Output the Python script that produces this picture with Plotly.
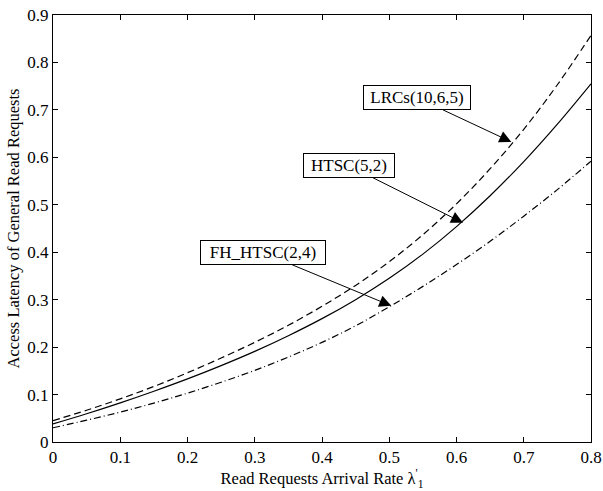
import plotly.graph_objects as go

# Data
x_rate = [0.0, 0.05, 0.1, 0.15, 0.2, 0.25, 0.3, 0.35, 0.4, 0.45, 0.5, 0.55, 0.6, 0.65, 0.7, 0.75, 0.8]
lrcs = [0.045, 0.067, 0.091, 0.117, 0.146, 0.177, 0.210, 0.246, 0.286, 0.330, 0.380, 0.437, 0.502, 0.576, 0.659, 0.753, 0.857]
htsc = [0.038, 0.0595, 0.0825, 0.107, 0.133, 0.161, 0.191, 0.224, 0.260, 0.300, 0.345, 0.396, 0.454, 0.519, 0.591, 0.670, 0.755]
fh_htsc = [0.030, 0.046, 0.063, 0.082, 0.103, 0.126, 0.151, 0.179, 0.210, 0.245, 0.285, 0.328, 0.374, 0.423, 0.476, 0.532, 0.592]

x_ticks = [0, 0.1, 0.2, 0.3, 0.4, 0.5, 0.6, 0.7, 0.8]
x_tick_labels = ["0", "0.1", "0.2", "0.3", "0.4", "0.5", "0.6", "0.7", "0.8"]
y_ticks = [0, 0.1, 0.2, 0.3, 0.4, 0.5, 0.6, 0.7, 0.8, 0.9]
y_tick_labels = ["0", "0.1", "0.2", "0.3", "0.4", "0.5", "0.6", "0.7", "0.8", "0.9"]

labels = ["LRCs(10,6,5)", "HTSC(5,2)", "FH_HTSC(2,4)"]
arrow_tips = [(0.6816, 0.6325), (0.6097, 0.462), (0.503, 0.287)]

FONT = "Liberation Serif, Times New Roman, Times, serif"

fig = go.Figure()
fig.add_trace(go.Scatter(x=x_rate, y=lrcs, mode="lines", line=dict(color="black", width=1.2, dash="7px,4px", shape="spline"), name=labels[0]))
fig.add_trace(go.Scatter(x=x_rate, y=htsc, mode="lines", line=dict(color="black", width=1.2, shape="spline"), name=labels[1]))
fig.add_trace(go.Scatter(x=x_rate, y=fh_htsc, mode="lines", line=dict(color="black", width=1.2, dash="7px,3px,1px,3px", shape="spline"), name=labels[2]))

offsets = [(-94, -44), (-114, -57), (-128, -53)]
widths = [104, 88, 122]
for lab, (tx, ty), (ax, ay), w in zip(labels, arrow_tips, offsets, widths):
    fig.add_annotation(
        x=tx, y=ty, xref="x", yref="y", text=lab, showarrow=True,
        ax=ax, ay=ay, axref="pixel", ayref="pixel",
        arrowhead=2, arrowsize=2.4, arrowwidth=1, arrowcolor="black",
        bordercolor="black", borderwidth=1, borderpad=1, bgcolor="white",
        width=w, height=21, font=dict(family=FONT, size=17, color="black"),
    )

axis_common = dict(
    showline=True, linecolor="black", linewidth=1, mirror="ticks",
    ticks="inside", ticklen=5, tickcolor="black", tickwidth=1,
    showgrid=False, zeroline=False, automargin=False,
    tickfont=dict(family=FONT, size=17, color="black"),
)

fig.update_xaxes(range=[0, 0.8], tickvals=x_ticks, ticktext=x_tick_labels,
                 title=dict(text="Read Requests Arrival Rate λ<sup>'</sup><sub>1</sub>", font=dict(family=FONT, size=16.5, color="black"), standoff=4),
                 **axis_common)
fig.update_yaxes(range=[0, 0.9], tickvals=y_ticks, ticktext=y_tick_labels,
                 title=dict(text="Access Latency of General Read Requests", font=dict(family=FONT, size=16.5, color="black"), standoff=3),
                 **axis_common)

fig.update_layout(
    width=603, height=491,
    margin=dict(l=53, r=12, t=15, b=49),
    paper_bgcolor="white", plot_bgcolor="white",
    showlegend=False,
)

fig.write_html("out.html", config={"displayModeBar": False},
               post_script="document.body.style.margin='0';")
